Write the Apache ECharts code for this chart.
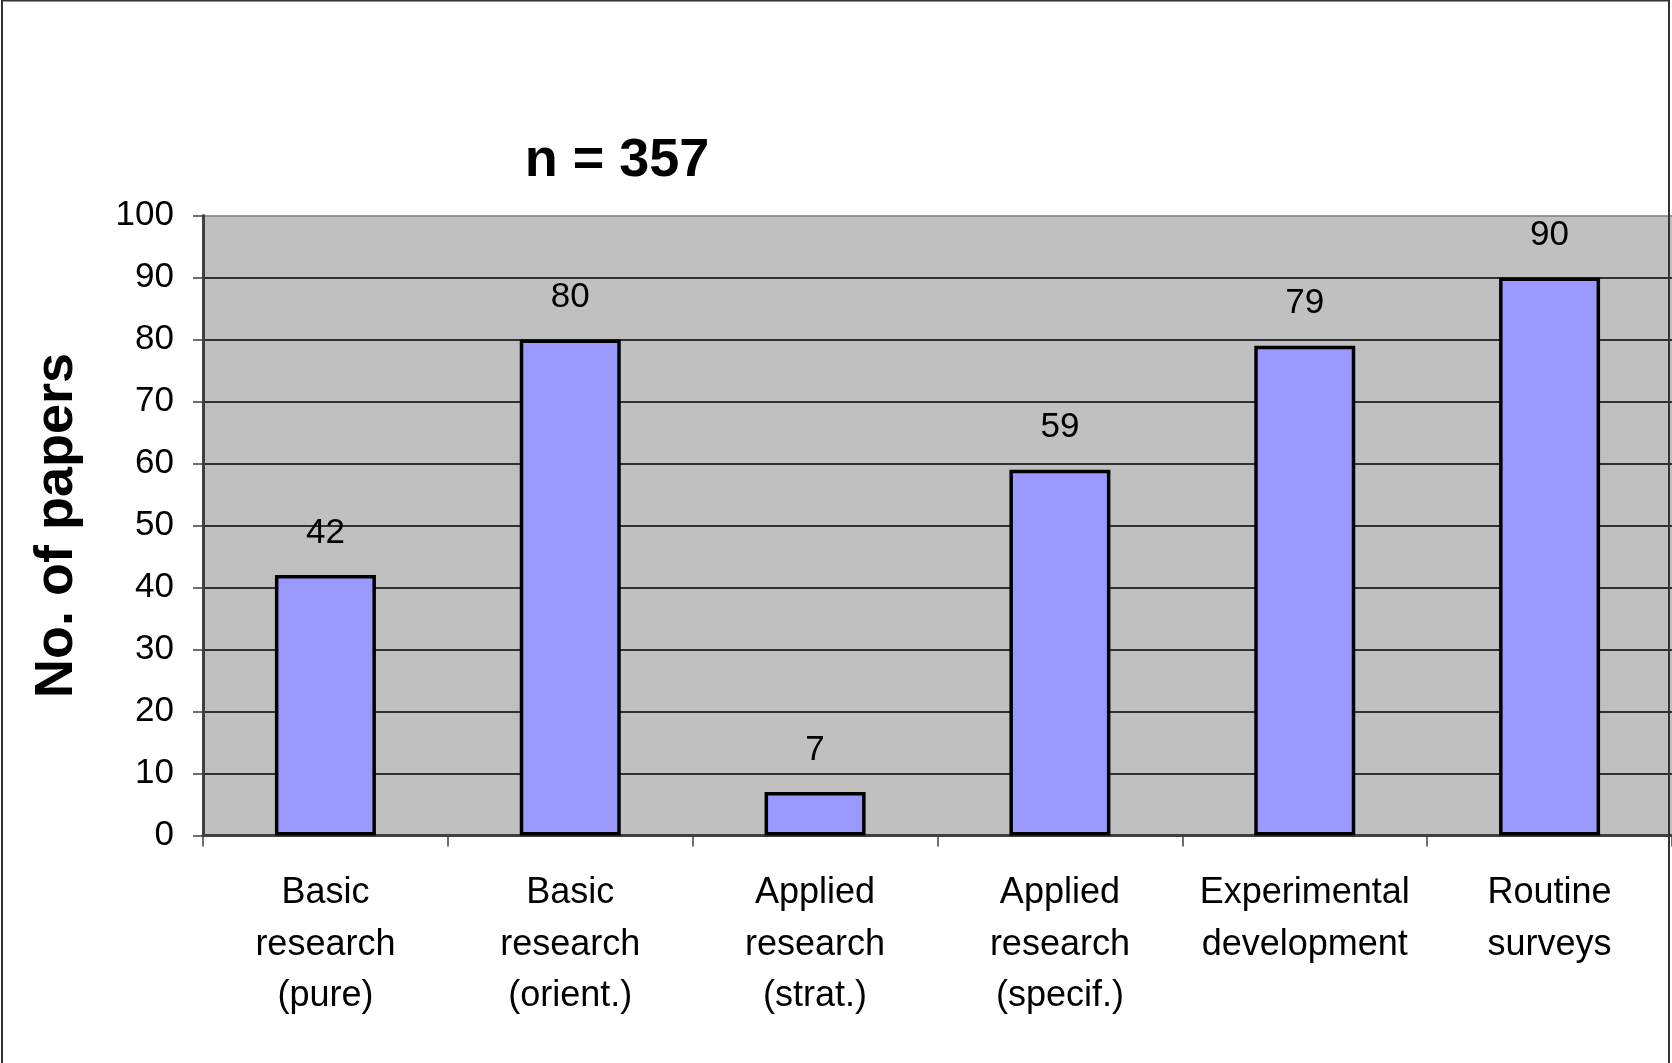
<!DOCTYPE html>
<html>
<head>
<meta charset="utf-8">
<script src="https://cdn.jsdelivr.net/npm/echarts@6/dist/echarts.min.js"></script>
<style>
  html, body { margin: 0; padding: 0; background: #fff; }
  #chart { width: 1672px; height: 1063px; }
</style>
</head>
<body>
<div id="chart"></div>
<script>
// Papers by type of research
const categories = [
  'Basic\nresearch\n(pure)',
  'Basic\nresearch\n(orient.)',
  'Applied\nresearch\n(strat.)',
  'Applied\nresearch\n(specif.)',
  'Experimental\ndevelopment',
  'Routine\nsurveys'
];
const paperCounts = [42, 80, 7, 59, 79, 90];
const titleText = 'n = 357';
const yAxisTitle = 'No. of papers';

const FONT = '"Liberation Sans", Arial, sans-serif';

// 11 split lines (0..100); the top one doubles as the grey plot border
const splitColors = ['#000', '#000', '#000', '#000', '#000', '#000', '#000', '#000', '#000', '#000', '#808080'];

const chart = echarts.init(document.getElementById('chart'), null, { renderer: 'canvas' });

chart.setOption({
  animation: false,
  backgroundColor: '#ffffff',
  title: {
    text: titleText,
    left: 612,
    top: 129,
    textAlign: 'center',
    textStyle: { fontFamily: FONT, fontSize: 54, fontWeight: 'bold', color: '#000', lineHeight: 54 }
  },
  grid: {
    left: 203,
    top: 215.5,
    width: 1473,
    height: 620,
    show: true,
    backgroundColor: '#c0c0c0',
    borderWidth: 0
  },
  xAxis: {
    type: 'category',
    data: categories,
    axisLine: { show: true, lineStyle: { color: '#404040', width: 3 } },
    axisTick: { show: true, length: 11, lineStyle: { color: '#404040', width: 1.5 } },
    axisLabel: {
      margin: 32,
      fontFamily: FONT,
      fontSize: 36,
      lineHeight: 51.5,
      color: '#000',
      interval: 0
    }
  },
  yAxis: {
    type: 'value',
    min: 0,
    max: 100,
    interval: 10,
    name: yAxisTitle,
    nameLocation: 'middle',
    nameRotate: 90,
    nameGap: 119,
    nameTextStyle: { fontFamily: FONT, fontSize: 54, fontWeight: 'bold', color: '#000' },
    axisLine: { show: true, lineStyle: { color: '#404040', width: 3 } },
    axisTick: { show: true, length: 10, lineStyle: { color: '#404040', width: 1.5 } },
    axisLabel: { margin: 29, fontFamily: FONT, fontSize: 35, color: '#000' },
    splitLine: { show: true, lineStyle: { color: splitColors, width: 1.5 } }
  },
  series: [{
    type: 'bar',
    data: paperCounts,
    barWidth: 101,
    itemStyle: { color: '#9999ff', borderColor: '#000', borderWidth: 3.5 },
    label: {
      show: true,
      position: 'top',
      distance: 24,
      fontFamily: FONT,
      fontSize: 35,
      lineHeight: 36,
      color: '#000'
    }
  }],
  graphic: [{
    type: 'rect',
    z: 100,
    silent: true,
    shape: { x: 2, y: 0.5, width: 1667, height: 1070 },
    style: { fill: 'none', stroke: '#333', lineWidth: 2 }
  }]
});
</script>
</body>
</html>
